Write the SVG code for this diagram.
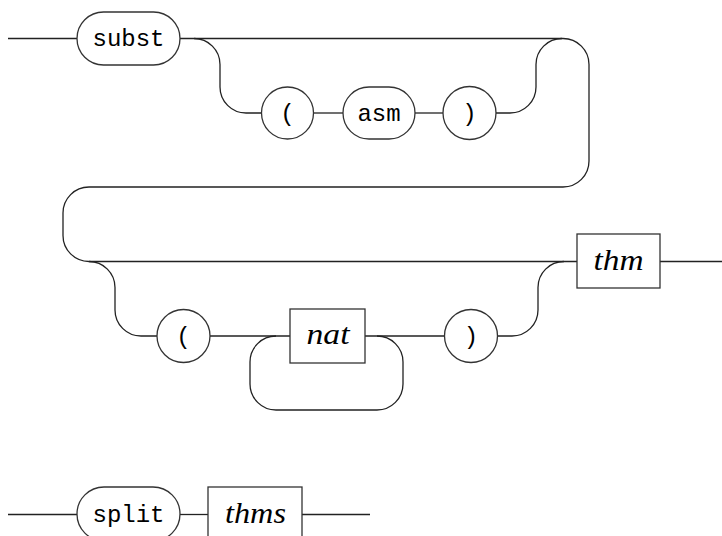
<svg xmlns="http://www.w3.org/2000/svg" width="722" height="536" viewBox="0 0 722 536">
<style>
.ln{fill:none;stroke:#222;stroke-width:1.3}
.nd{fill:#fff;stroke:#333;stroke-width:1.3}
.tt{font-family:"Liberation Mono","DejaVu Sans Mono",monospace;font-size:24px;fill:#000;text-anchor:middle}
.it{font-family:"Liberation Serif","DejaVu Serif",serif;font-style:italic;font-size:30px;fill:#000;text-anchor:middle}
</style>
<rect width="722" height="536" fill="#fff"/>
<g id="connectors">
<path class="ln" d="M8,38.5 H77"/>
<path class="ln" d="M180,38.5 H563 A26,26 0 0 1 589,64.5 V161 A26,26 0 0 1 563,187 H89 A26,26 0 0 0 63,213 V235.5 A26,26 0 0 0 89,261.5 H577"/>
<path class="ln" d="M194,38.5 A26,26 0 0 1 220,64.5 V87 A26,26 0 0 0 246,113 H261.5"/>
<path class="ln" d="M313.5,113 H343"/>
<path class="ln" d="M415,113 H443"/>
<path class="ln" d="M496,113 H510 A26,26 0 0 0 536,87 V64.5 A26,26 0 0 1 562,38.5"/>
<path class="ln" d="M89,261.5 A26,26 0 0 1 115,287.5 V310 A26,26 0 0 0 141,336 H157"/>
<path class="ln" d="M210,336 H290"/>
<path class="ln" d="M276,336 A26,26 0 0 0 250,362 V384 A26,26 0 0 0 276,410 H377 A26,26 0 0 0 403,384 V362 A26,26 0 0 0 377,336"/>
<path class="ln" d="M365,336 H444.5"/>
<path class="ln" d="M497.5,336 H512 A26,26 0 0 0 538,310 V287.5 A26,26 0 0 1 564,261.5"/>
<path class="ln" d="M660,261.5 H722"/>
<path class="ln" d="M8,514.5 H77"/>
<path class="ln" d="M180,514.5 H208"/>
<path class="ln" d="M302,514.5 H370"/>
</g>
<g id="subst"><rect class="nd" x="77" y="12" width="103" height="53" rx="26.5"/><text class="tt" x="128.5" y="46">subst</text></g>
<g id="lparen1"><circle class="nd" cx="287.5" cy="113" r="26"/><text class="tt" x="287.5" y="121">(</text></g>
<g id="asm"><rect class="nd" x="343" y="87" width="72" height="52" rx="26"/><text class="tt" x="379" y="120.5">asm</text></g>
<g id="rparen1"><circle class="nd" cx="469.5" cy="113" r="26.5"/><text class="tt" x="469.5" y="121">)</text></g>
<g id="lparen2"><circle class="nd" cx="183.5" cy="336" r="26.5"/><text class="tt" x="183.5" y="344">(</text></g>
<g id="nat"><rect class="nd" x="290" y="309" width="75" height="54"/><text class="it" x="328" y="344" textLength="43" lengthAdjust="spacingAndGlyphs">nat</text></g>
<g id="rparen2"><circle class="nd" cx="471" cy="336" r="26.5"/><text class="tt" x="471" y="344">)</text></g>
<g id="thm"><rect class="nd" x="577" y="234" width="83" height="54"/><text class="it" x="618.5" y="270" textLength="50" lengthAdjust="spacingAndGlyphs">thm</text></g>
<g id="split"><rect class="nd" x="77" y="487" width="103" height="54" rx="27"/><text class="tt" x="128.5" y="522">split</text></g>
<g id="thms"><rect class="nd" x="208" y="487" width="94" height="54"/><text class="it" x="255.5" y="523" textLength="61" lengthAdjust="spacingAndGlyphs">thms</text></g>
</svg>
